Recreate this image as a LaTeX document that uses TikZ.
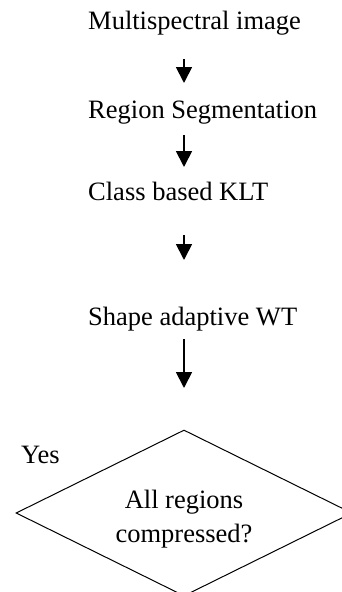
\documentclass[tikz,border=0pt]{standalone}
\usepackage{fontspec}
\setmainfont{Liberation Serif}
\usetikzlibrary{arrows.meta}
\usetikzlibrary{shapes.geometric}
\tikzstyle{steplabel}=[anchor=base west,inner sep=0pt,font=\fontsize{26.5}{34}\selectfont]
\tikzstyle{decisiontext}=[align=center,inner sep=0pt,font=\fontsize{26.5}{34}\selectfont]
\tikzstyle{decision}=[diamond,draw,line width=1pt,inner sep=0pt,minimum width=336pt,minimum height=166pt]
\tikzstyle{flowedge} = [draw,line width=1.8pt,-{Triangle[width=16pt,length=16pt]}]

\begin{document}
\begin{tikzpicture}[x=1pt,y=-1pt]
\useasboundingbox (0,0) rectangle (342,592);

    % First we draw the steps
    \foreach \pos/\name/\label in {{(88,29)/img/Multispectral image}, {(88,118)/seg/Region Segmentation}, {(88,200)/klt/Class based KLT}, {(88,325)/wt/Shape adaptive WT}, {(21,463)/yes/Yes}}
        \node[steplabel] (\name) at \pos {\label};

    % The decision box
    \node[decision] (dec) at (184,513) {};
    \node[decisiontext] (dectext) at (184,519) {All regions\\compressed?};

    % Arrows between the steps
  \foreach \name/\top/\tip in {a1/59/83, a2/135/167, a3/235/260, a4/339/388}
  {
          \coordinate (\name s) at (184,\top);
          \coordinate (\name e) at (184,\tip);
          \path[flowedge] (\name s) -- (\name e);
  }

\end{tikzpicture}
\end{document}
